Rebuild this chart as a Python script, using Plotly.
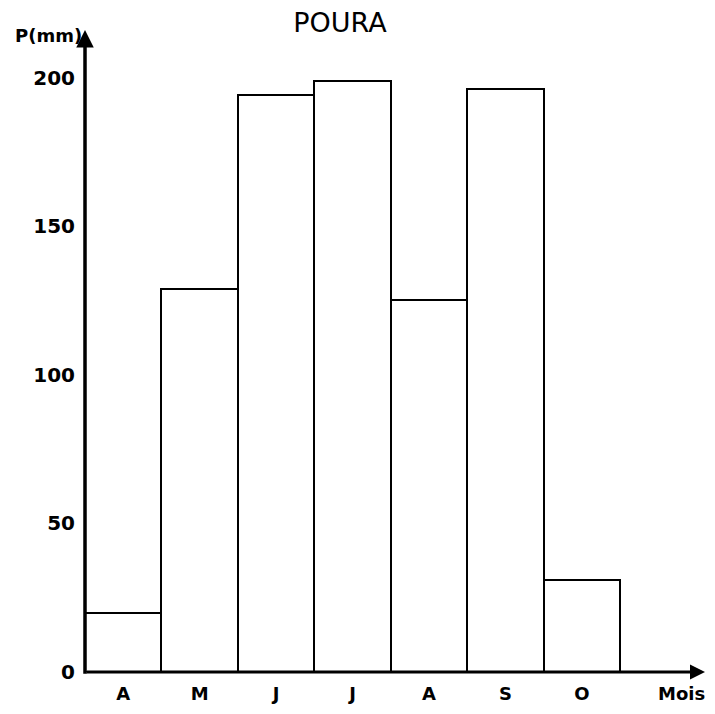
import plotly.graph_objects as go

months = ["A", "M", "J", "J", "A", "S", "O"]
rain_mm = [20, 129, 194, 199, 125, 196, 31]
y_ticks = [0, 50, 100, 150, 200]

# page body has an 8px margin: figure is sized so it fits the 715x714 window
W, H = 699, 698

fig = go.Figure()
fig.add_trace(go.Bar(
    x=list(range(len(months))),
    y=rain_mm,
    width=1.0,
    marker=dict(color="white", line=dict(color="black", width=2)),
    showlegend=False,
))

fam = "DejaVu Sans"

fig.update_layout(
    width=W, height=H,
    margin=dict(l=77, r=2, t=22, b=25),
    paper_bgcolor="white", plot_bgcolor="white",
    bargap=0,
    font=dict(family=fam, size=18, color="black"),
    xaxis=dict(
        range=[-0.5, 7.61],
        tickmode="array",
        tickvals=list(range(len(months))),
        ticktext=["<b>%s</b>" % m for m in months],
        showgrid=False, zeroline=False, showline=False,
        ticks="", ticklabelstandoff=9,
        tickfont=dict(family=fam, size=18),
    ),
    yaxis=dict(
        range=[0, 216],
        tickmode="array",
        tickvals=y_ticks,
        ticktext=["<b>%d</b>" % v for v in y_ticks],
        showgrid=False, zeroline=False, showline=False,
        ticks="", ticklabelstandoff=9,
        tickfont=dict(family=fam, size=20),
    ),
    annotations=[
        dict(x=0, y=1.0, xref="x domain", yref="y domain", ax=0, ay=-0.005,
             axref="x domain", ayref="y domain", showarrow=True,
             arrowhead=2, arrowsize=1, arrowwidth=3.5, arrowcolor="black", text=""),
        dict(x=1.0, y=0, xref="x domain", yref="y domain", ax=0, ay=0,
             axref="x domain", ayref="y domain", showarrow=True,
             arrowhead=2, arrowsize=1, arrowwidth=3, arrowcolor="black", text=""),
        dict(x=0, y=1.0, xref="x domain", yref="y domain", xanchor="right", yanchor="middle",
             xshift=-1, yshift=-5, text="<b>P(mm)</b>", showarrow=False,
             font=dict(family=fam, size=18)),
        dict(x=1.0, y=0, xref="x domain", yref="y domain", xanchor="right", yanchor="middle",
             xshift=2, yshift=-21, text="<b>Mois</b>", showarrow=False,
             font=dict(family=fam, size=18)),
    ],
    title=dict(text="POURA", x=332 / W, y=1 - 15 / H, xanchor="center",
               yanchor="middle", font=dict(family=fam, size=27)),
)

fig.write_html("out.html")
